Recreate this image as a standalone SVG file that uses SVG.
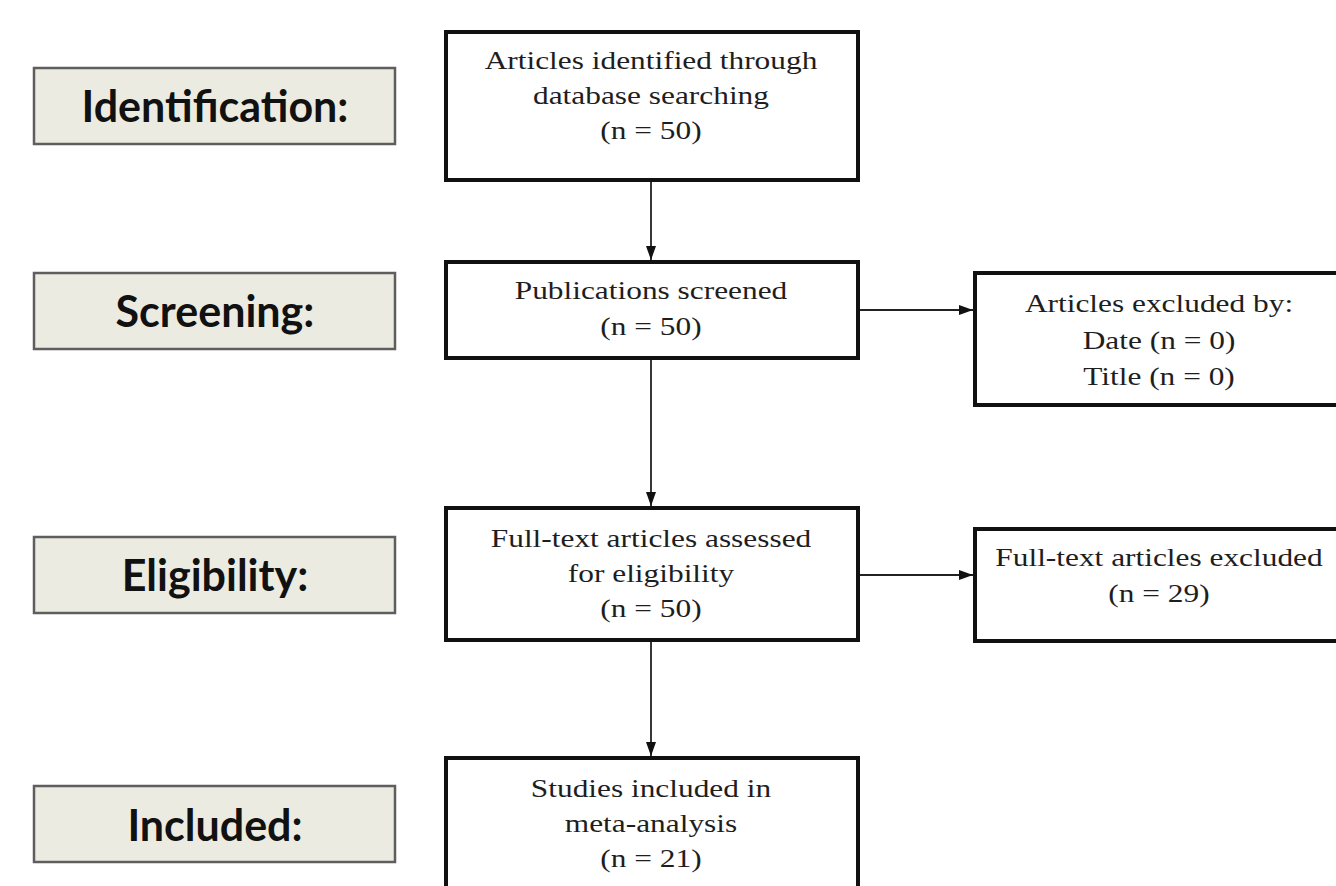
<svg xmlns="http://www.w3.org/2000/svg" width="1336" height="886" viewBox="0 0 1336 886">
<style>
.stage rect{fill:#ecebe1;stroke:#5e5e5e;stroke-width:2.5}
.stage text{font-family:"Lato","Open Sans",sans-serif;font-weight:bold;font-size:43px;fill:#111;text-anchor:middle}
.box rect{fill:#fff;stroke:#111;stroke-width:4}
.box text{font-family:"Liberation Serif","Times New Roman",serif;font-size:25.5px;fill:#1e1e1e;text-anchor:middle}
.conn line{stroke:#222;stroke-width:1.8;marker-end:url(#ah)}
</style>
<defs>
<marker id="ah" viewBox="0 0 14 10" refX="14" refY="5" markerWidth="14" markerHeight="10" markerUnits="userSpaceOnUse" orient="auto">
<path d="M0,0 L14,5 L0,10 z" fill="#111"/>
</marker>
</defs>
<rect width="1336" height="886" fill="#fff"/>
<g id="stage-identification" class="stage"><rect x="34" y="68" width="361" height="76"/><text x="215" y="122">Identification:</text></g>
<g id="stage-screening" class="stage"><rect x="34" y="273" width="361" height="76"/><text x="215" y="327">Screening:</text></g>
<g id="stage-eligibility" class="stage"><rect x="34" y="537" width="361" height="76"/><text x="215" y="591">Eligibility:</text></g>
<g id="stage-included" class="stage"><rect x="34" y="786" width="361" height="76"/><text x="215" y="841">Included:</text></g>
<g id="connectors" class="conn">
<line x1="651" y1="182" x2="651" y2="260"/>
<line x1="651" y1="359" x2="651" y2="506"/>
<line x1="651" y1="641" x2="651" y2="756"/>
<line x1="860" y1="310" x2="973" y2="310"/>
<line x1="860" y1="575" x2="973" y2="575"/>
</g>
<g id="box-identified" class="box"><rect x="446" y="32" width="412" height="148"/>
<text transform="translate(651 69) scale(1.23 1)">Articles identified through</text>
<text transform="translate(651 104) scale(1.23 1)">database searching</text>
<text transform="translate(651 139) scale(1.23 1)">(n = 50)</text></g>
<g id="box-screened" class="box"><rect x="446" y="262" width="412" height="96"/>
<text transform="translate(651 299) scale(1.23 1)">Publications screened</text>
<text transform="translate(651 335) scale(1.23 1)">(n = 50)</text></g>
<g id="box-excluded-date" class="box"><rect x="975" y="273" width="372" height="132"/>
<text transform="translate(1159 312) scale(1.23 1)">Articles excluded by:</text>
<text transform="translate(1159 349) scale(1.23 1)">Date (n = 0)</text>
<text transform="translate(1159 385) scale(1.23 1)">Title (n = 0)</text></g>
<g id="box-fulltext" class="box"><rect x="446" y="508" width="412" height="132"/>
<text transform="translate(651 547) scale(1.23 1)">Full-text articles assessed</text>
<text transform="translate(651 582) scale(1.23 1)">for eligibility</text>
<text transform="translate(651 617) scale(1.23 1)">(n = 50)</text></g>
<g id="box-fulltext-excluded" class="box"><rect x="975" y="529" width="372" height="112"/>
<text transform="translate(1159 566) scale(1.23 1)">Full-text articles excluded</text>
<text transform="translate(1159 602) scale(1.23 1)">(n = 29)</text></g>
<g id="box-included" class="box"><rect x="446" y="758" width="412" height="140"/>
<text transform="translate(651 797) scale(1.23 1)">Studies included in</text>
<text transform="translate(651 832) scale(1.23 1)">meta-analysis</text>
<text transform="translate(651 867) scale(1.23 1)">(n = 21)</text></g>
</svg>
